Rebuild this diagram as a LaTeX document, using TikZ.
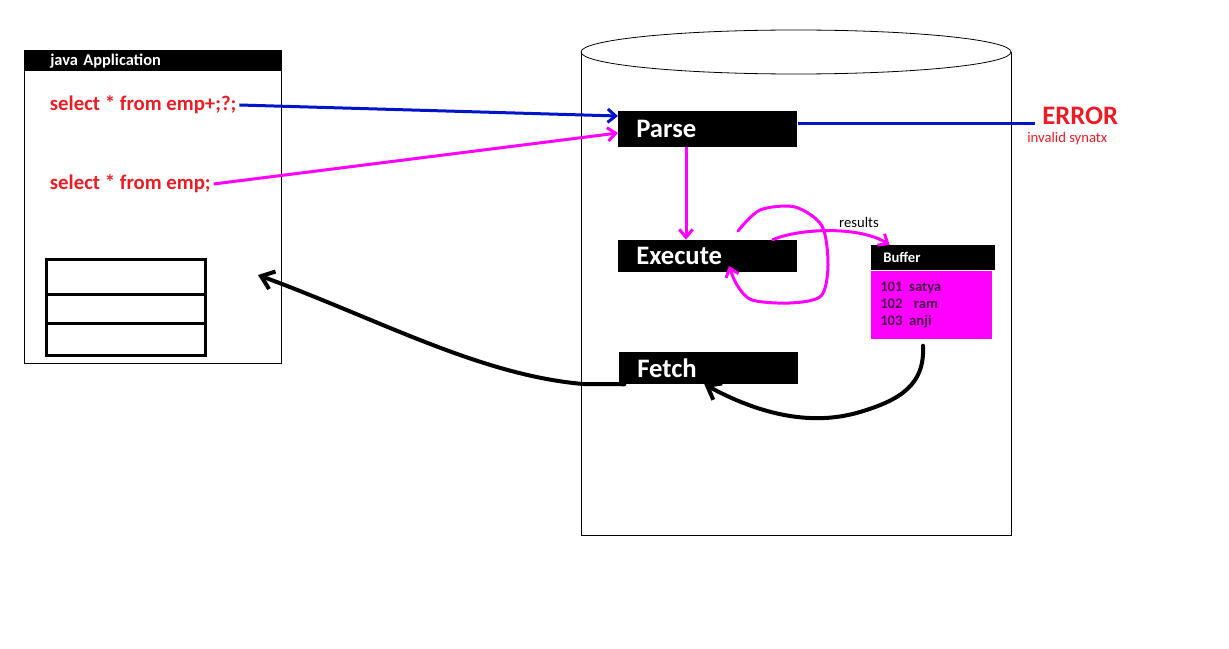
\documentclass[tikz,border=0pt]{standalone}
\usepackage{fontspec}
\setmainfont{Carlito}
\usetikzlibrary{arrows.meta}
\definecolor{errred}{RGB}{237,28,36}
\definecolor{qblue}{RGB}{0,20,200}
\definecolor{flowpink}{RGB}{255,0,255}
\definecolor{bufink}{RGB}{70,0,70}

\begin{document}
\begin{tikzpicture}[x=0.75pt,y=-0.75pt,
  opbox/.style={fill=black,text=white,font=\bfseries\fontsize{20}{24}\selectfont,
    text width=107.25pt,inner xsep=13.5pt,inner ysep=0pt,minimum height=24pt,align=left,anchor=west},
  query/.style={text=errred,font=\bfseries\fontsize{15.6}{18}\selectfont,anchor=west,inner sep=2pt},
  flow/.style={line width=2.25pt,-{Straight Barb[length=6pt,width=10pt]}},
  hand/.style={line width=3pt,line cap=round,line join=round,-{Straight Barb[length=9pt,width=14pt]}}]
\useasboundingbox (0,0) rectangle (1229,649);

% java application
\node [draw,line width=0.6pt,minimum width=192.75pt,minimum height=234.75pt,anchor=north west] (App) at (24,50) {};
\node [fill=black,text=white,font=\bfseries\fontsize{12.3}{14}\selectfont,text width=153.75pt,inner xsep=19.5pt,
  inner ysep=0pt,minimum height=15.75pt,align=left,anchor=north west] (AppHead) at (App.north west) {java Application};
\node [query] (Q1) at (47,105) {select * from emp+;?;};
\node [query] (Q2) at (47,184) {select * from emp;};
\draw [line width=2.25pt] (46,260) rectangle (205,355);
\draw [line width=2.25pt] (46,295) -- (205,295) (46,323) -- (205,323);

% database
\draw [line width=0.6pt] (796,52) ellipse [x radius=215, y radius=22];
\draw [line width=0.6pt] (581,52) -- (581,535) -- (1011,535) -- (1011,52);

\node [opbox,minimum height=27pt] (Parse) at (618,129) {Parse};
\node [opbox] (Execute) at (618,256) {Execute};
\node [opbox] (Fetch) at (619,368) {Fetch};

\node [fill=black,text=white,font=\bfseries\fontsize{11}{13}\selectfont,text width=75pt,inner xsep=9pt,
  inner ysep=0pt,minimum height=18.75pt,align=left,anchor=north west] (Buffer) at (871,245) {Buffer};
\node [fill=flowpink,text=bufink,font=\bfseries\fontsize{11}{13}\selectfont,text width=77.25pt,inner xsep=6.75pt,
  inner ysep=4pt,minimum height=51pt,align=left,anchor=north west] (BufBody) at (Buffer.south west)
  {101\hspace{5pt}satya\\102\hspace{8.5pt}ram\\103\hspace{5pt}anji};

\node [text=errred,font=\bfseries\fontsize{20}{24}\selectfont,anchor=west,inner sep=0pt] (Error) at (1042,116) {ERROR};
\node [text=errred,font=\fontsize{11}{13}\selectfont,anchor=north west,inner sep=0pt] (ErrMsg) at (1027,132) {invalid synatx};
\coordinate (ErrEnd) at (1035,124);

% connectors
\draw [flow,qblue] (Q1.east) -- ([yshift=9.75pt]Parse.west);
\draw [flow,flowpink] (Q2.east) -- ([yshift=-3pt]Parse.west);
\draw [line width=2.25pt,qblue] ([yshift=3.75pt]Parse.east) -- (ErrEnd);
\draw [flow,flowpink] ([xshift=51pt]Parse.south west) -- ([xshift=51pt]Execute.north west);

\coordinate (LoopIn) at (738,231);
\coordinate (LoopOut) at (729,266);
\draw [flow,flowpink,line cap=round] plot [smooth] coordinates {(LoopIn) (760,210) (795,207) (822,226) (828,265) (821,296) (790,303) (752,300) (737,285) (LoopOut)};
\draw [flow,flowpink,line cap=round] ([xshift=116pt]Execute.north west) .. controls (800,228) and (860,226) .. node [above,black,font=\fontsize{11}{13}\selectfont,pos=0.72] {results} ([xshift=14pt]Buffer.north west);

\draw [hand] ([xshift=39pt,yshift=-5pt]BufBody.south west) .. controls (925,385) and (900,400) .. (860,412)
  .. controls (820,424) and (770,420) .. ([xshift=64pt]Fetch.south west);
\coordinate (AppIn) at (258,275);
\draw [hand] ([xshift=4pt]Fetch.south west) -- (583,384) .. controls (480,375) and (380,320) .. (AppIn);
\end{tikzpicture}
\end{document}
